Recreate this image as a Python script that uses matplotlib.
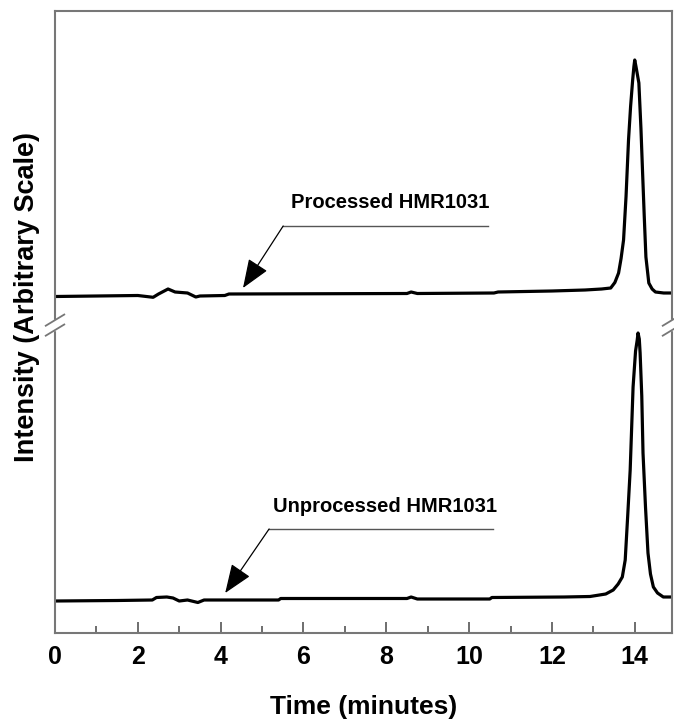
import numpy as np
import matplotlib.pyplot as plt

plt.rcParams['font.family'] = ['Liberation Sans', 'DejaVu Sans']

# retention time (min) and detector signal (arbitrary units, baseline = 0)
t_processed = [0.0, 1.0, 2.0, 2.37, 2.5, 2.73, 2.9, 3.2, 3.4, 3.5, 4.1, 4.2,
               8.5, 8.6, 8.75, 10.6, 10.7, 12.0, 12.8, 13.2, 13.42, 13.52,
               13.61, 13.67, 13.73, 13.79, 13.85, 13.9, 13.95, 13.98, 14.0,
               14.03, 14.1, 14.15, 14.19, 14.23, 14.27, 14.34, 14.42, 14.5,
               14.7, 14.9]
i_processed = [0.0, 0.5, 1.0, -0.8, 2.5, 7.5, 4.5, 3.5, -0.5, 0.5, 1.0, 2.5,
               3.0, 4.5, 3.0, 3.5, 4.5, 5.5, 6.5, 7.5, 8.5, 14,
               23.5, 38, 56.5, 100, 156.5, 190, 216.5, 230, 236.5,
               230, 213.5, 168, 123.5, 80, 39.5, 13.5, 7.5, 4.5,
               3.5, 3.5]

t_unprocessed = [0.0, 1.5, 2.35, 2.45, 2.7, 2.85, 3.0, 3.2, 3.45, 3.6, 5.4,
                 5.45, 8.5, 8.6, 8.75, 10.5, 10.55, 12.3, 12.92, 13.3,
                 13.48, 13.6, 13.7, 13.77, 13.83, 13.89, 13.96, 14.02,
                 14.06, 14.08, 14.11, 14.13, 14.17, 14.2, 14.26, 14.32,
                 14.38, 14.45, 14.55, 14.69, 14.9]
i_unprocessed = [0.0, 0.5, 1.0, 3.5, 4.0, 3.0, 0.0, 1.0, -1.5, 1.0, 1.0,
                 2.5, 2.5, 4.0, 2.0, 2.0, 3.5, 4.0, 4.5, 7.0,
                 11, 17, 24, 41, 85, 131, 214, 250,
                 261, 268, 262, 248, 205, 148, 94, 48,
                 27, 14, 8, 4, 4]

stack_offset = 304.5  # vertical shift of the processed trace

x_ticks = [0, 2, 4, 6, 8, 10, 12, 14]

fig = plt.figure(figsize=(6.74, 7.22), dpi=100)
ax = fig.add_axes([55 / 674, 89 / 722, 617 / 674, 622 / 722])

ax.plot(t_unprocessed, i_unprocessed, color='black', lw=2.3,
        solid_joinstyle='round')
ax.plot(t_processed, np.array(i_processed) + stack_offset, color='black',
        lw=2.3, solid_joinstyle='round')

ax.set_xlim(0, 14.9)
ax.set_ylim(-32, 590)

# labels with leader lines and arrows
labels = [('Processed HMR1031', 8.09, 398, 5.51, 10.46, 375, 4.54, 313),
          ('Unprocessed HMR1031', 7.97, 94, 5.17, 10.58, 72, 4.11, 8)]
for txt, tx, ty, lx0, lx1, ly, ax_, ay in labels:
    ax.text(tx, ty, txt, ha='center', va='center', fontsize=14.5,
            fontweight='bold')
    ax.plot([lx0, lx1], [ly, ly], color='#555555', lw=1.0)
    ax.annotate('', xy=(ax_, ay), xytext=(lx0, ly),
                arrowprops=dict(arrowstyle='-|>,head_length=1.8,head_width=0.7',
                                color='black', lw=0.9, mutation_scale=10,
                                shrinkA=0, shrinkB=0))

for s in ax.spines.values():
    s.set_color('#777777')
    s.set_linewidth(1.5)

ax.set_yticks([])
ax.set_xticks(x_ticks)
ax.set_xticks(np.arange(1, 15, 2), minor=True)
ax.tick_params(axis='x', which='major', direction='in', length=8, width=1.2,
               color='#555555', labelsize=18, pad=9)
ax.tick_params(axis='x', which='minor', direction='in', length=5, width=1.2,
               color='#555555')
for lab in ax.get_xticklabels():
    lab.set_fontweight('bold')

ax.set_xlabel('Time (minutes)', fontsize=19, fontweight='bold')
ax.xaxis.set_label_coords(0.5, -0.1)
ax.set_ylabel('Intensity (Arbitrary Scale)', fontsize=19.5,
              fontweight='bold')
ax.yaxis.set_label_coords(-0.024, 0.54)

# axis break marks on both sides
for xb in (0.0, 1.0):
    ax.add_patch(plt.Rectangle((xb - 0.006, 0.487), 0.012, 0.016,
                               transform=ax.transAxes, color='white',
                               clip_on=False, zorder=5))
    for yb in (0.487, 0.503):
        ax.plot([xb - 0.015, xb + 0.015], [yb - 0.009, yb + 0.009],
                transform=ax.transAxes, color='#777777', lw=1.3,
                clip_on=False, zorder=6)

fig.savefig('out.png', dpi=100)
